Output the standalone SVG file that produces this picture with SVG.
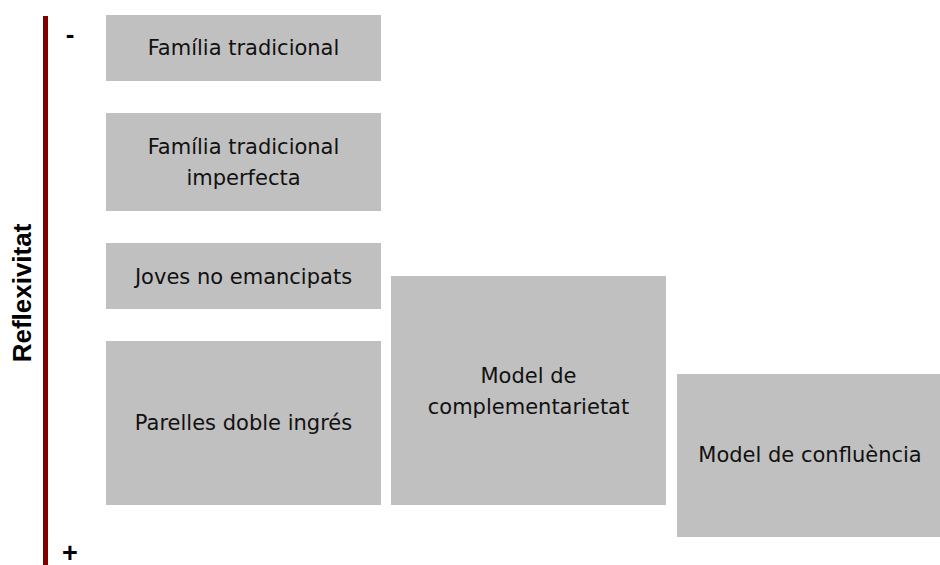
<svg xmlns="http://www.w3.org/2000/svg" width="940" height="565" viewBox="0 0 940 565">
<style>
.box{fill:#c0c0c0;}
.t{font-family:"DejaVu Sans","Noto Sans",sans-serif;font-size:21px;fill:#111;text-anchor:middle;dominant-baseline:central;}
.axis{font-family:"Liberation Sans",Arial,sans-serif;font-weight:bold;fill:#000;}
</style>
<rect width="940" height="565" fill="#fff"/>
<g id="axis">
<rect x="43" y="16" width="5" height="549" fill="#800000"/>
<text class="axis" x="0" y="0" font-size="26" text-anchor="middle" transform="translate(31,293) rotate(-90)">Reflexivitat</text>
<text class="axis" x="70" y="43" font-size="26" text-anchor="middle">-</text>
<text class="axis" x="70" y="562" font-size="27" text-anchor="middle">+</text>
</g>
<g id="connectors"></g>
<g id="familia-tradicional">
<rect class="box" x="106" y="15" width="275" height="66"/>
<text class="t" x="243.5" y="48">Família tradicional</text>
</g>
<g id="familia-tradicional-imperfecta">
<rect class="box" x="106" y="113" width="275" height="98"/>
<text class="t" x="243.5" y="147">Família tradicional</text>
<text class="t" x="243.5" y="178">imperfecta</text>
</g>
<g id="joves-no-emancipats">
<rect class="box" x="106" y="243" width="275" height="66"/>
<text class="t" x="243.5" y="277">Joves no emancipats</text>
</g>
<g id="parelles-doble-ingres">
<rect class="box" x="106" y="341" width="275" height="164"/>
<text class="t" x="243.5" y="423">Parelles doble ingrés</text>
</g>
<g id="model-complementarietat">
<rect class="box" x="391" y="276" width="275" height="229"/>
<text class="t" x="528.5" y="376">Model de</text>
<text class="t" x="528.5" y="407">complementarietat</text>
</g>
<g id="model-confluencia">
<rect class="box" x="677" y="374" width="263" height="163"/>
<text class="t" x="810" y="455">Model de confluència</text>
</g>
</svg>
